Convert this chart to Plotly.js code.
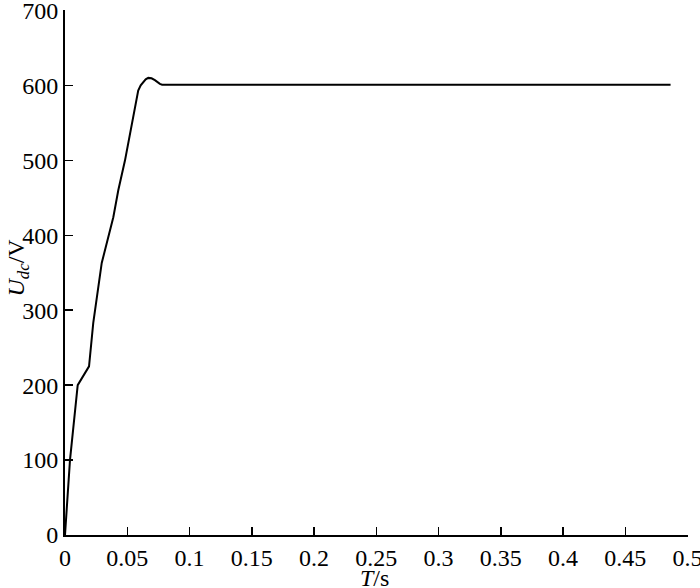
<!DOCTYPE html>
<html>
<head>
<meta charset="utf-8">
<script src="https://cdn.plot.ly/plotly-3.0.1.min.js"></script>
<style>
  html, body { margin: 0; padding: 0; background: #fff; }
  #myPlot { width: 700px; height: 588px; }
</style>
</head>
<body>
<div id="myPlot"></div>
<script>
// DC link voltage vs time
var timeS = [0, 0.004, 0.0102, 0.0193, 0.0227, 0.0267, 0.0295, 0.0388, 0.0428, 0.0482, 0.0535, 0.0588, 0.0608, 0.0628, 0.0648, 0.0669, 0.0695, 0.0722, 0.0742, 0.0762, 0.078, 0.2, 0.35, 0.4864];
var udcV = [0, 100, 200, 225, 283, 327, 363, 424, 460, 500, 547, 593, 600, 604, 608, 610, 609.5, 607, 604, 602, 601, 601, 601, 601];

var xTicks = [0, 0.05, 0.1, 0.15, 0.2, 0.25, 0.3, 0.35, 0.4, 0.45, 0.5];
var xTickText = ["0", "0.05", "0.1", "0.15", "0.2", "0.25", "0.3", "0.35", "0.4", "0.45", "0.5"];
var yTicks = [0, 100, 200, 300, 400, 500, 600, 700];

var serif = '"Liberation Serif", serif';

var trace = {
    x: timeS,
    y: udcV,
    mode: 'lines',
    type: 'scatter',
    line: {color: '#000', width: 2},
    hoverinfo: 'none'
};

var layout = {
    width: 700,
    height: 588,
    margin: {l: 65, r: 12, t: 10, b: 53},
    paper_bgcolor: '#fff',
    plot_bgcolor: '#fff',
    showlegend: false,
    font: {family: serif, size: 24, color: '#000'},
    xaxis: {
        range: [0, 0.5004],
        tickvals: xTicks,
        ticktext: xTickText,
        ticks: 'inside',
        ticklen: 8,
        tickwidth: 1.5,
        tickcolor: '#000',
        showline: true,
        linecolor: '#000',
        linewidth: 2,
        showgrid: false,
        zeroline: false,
        ticklabeloverflow: 'allow',
        tickfont: {family: serif, size: 24, color: '#000'}
    },
    yaxis: {
        range: [0, 700.6],
        tickvals: yTicks,
        ticks: 'inside',
        ticklen: 8,
        tickwidth: 1.5,
        tickcolor: '#000',
        showline: true,
        linecolor: '#000',
        linewidth: 2,
        showgrid: false,
        zeroline: false,
        ticklabeloverflow: 'allow',
        tickfont: {family: serif, size: 24, color: '#000'}
    },
    annotations: [
        {
            text: '<i>T</i>/s',
            xref: 'paper', yref: 'paper',
            x: 0.496, y: -0.082,
            xanchor: 'center', yanchor: 'middle',
            showarrow: false,
            font: {family: serif, size: 24, color: '#000'}
        },
        {
            text: '<i>U</i><sub><i>dc</i></sub>/V',
            xref: 'paper', yref: 'paper',
            x: -0.075, y: 0.51,
            xanchor: 'center', yanchor: 'middle',
            textangle: -90,
            showarrow: false,
            font: {family: serif, size: 24, color: '#000'}
        }
    ]
};

Plotly.newPlot('myPlot', [trace], layout, {displayModeBar: false, staticPlot: true});
</script>
</body>
</html>
